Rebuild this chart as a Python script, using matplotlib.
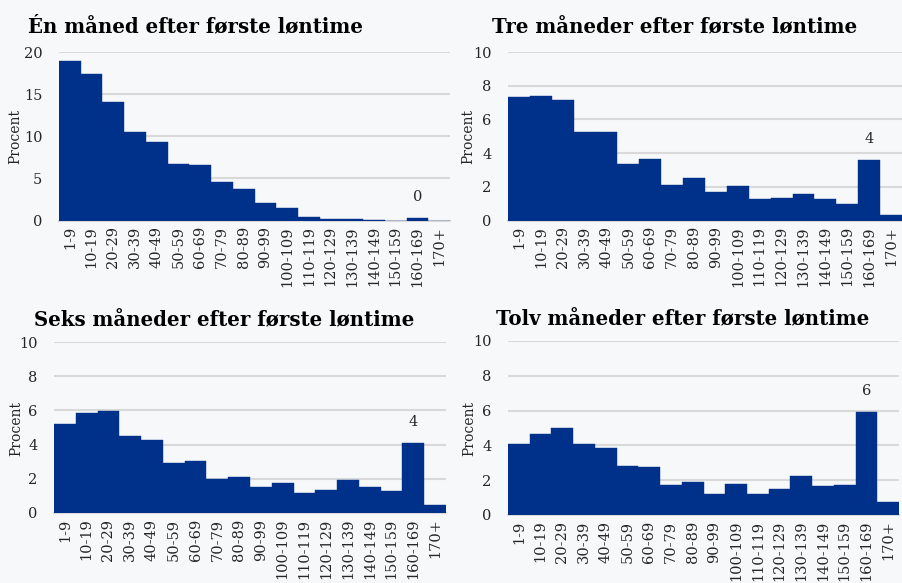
import numpy as np
import matplotlib
matplotlib.use('Agg')
from matplotlib import pyplot as plt

# Fordeling af ugentlige løntimer, procent
categories = ['1-9', '10-19', '20-29', '30-39', '40-49', '50-59', '60-69', '70-79', '80-89',
              '90-99', '100-109', '110-119', '120-129', '130-139', '140-149', '150-159',
              '160-169', '170+']

en_maaned = [18.9, 17.4, 14.1, 10.45, 9.27, 6.67, 6.55, 4.54, 3.75, 2.05, 1.54, 0.4,
             0.16, 0.16, 0.05, 0.0, 0.28, 0.0]
tre_maaneder = [7.33, 7.41, 7.17, 5.25, 5.27, 3.33, 3.66, 2.1, 2.53, 1.68, 2.06, 1.25,
                1.33, 1.6, 1.27, 0.97, 3.58, 0.32]
seks_maaneder = [5.22, 5.87, 5.95, 4.52, 4.27, 2.92, 3.02, 1.97, 2.1, 1.5, 1.77, 1.19,
                 1.36, 1.95, 1.52, 1.27, 4.11, 0.47]
tolv_maaneder = [4.06, 4.66, 5.0, 4.06, 3.85, 2.84, 2.74, 1.74, 1.88, 1.23, 1.8, 1.23,
                 1.49, 2.24, 1.67, 1.7, 5.92, 0.73]

titles = ['Én måned efter første løntime', 'Tre måneder efter første løntime',
          'Seks måneder efter første løntime', 'Tolv måneder efter første løntime']
series = [en_maaned, tre_maaneder, seks_maaneder, tolv_maaneder]
ymax = [20, 10, 10, 10]
yticks = [[0, 5, 10, 15, 20], [0, 2, 4, 6, 8, 10], [0, 2, 4, 6, 8, 10], [0, 2, 4, 6, 8, 10]]

W, H = 902, 583
bg = '#f7f8f9'
bar_color = '#00318a'
grid_color = '#d9d9d9'
txt = '#262626'

plt.rcParams['font.family'] = ['DejaVu Serif']

fig = plt.figure(figsize=(W / 100, H / 100), dpi=100, facecolor=bg)

# pixel boxes: left, right, y of zero, y of top
boxes = [(59, 450, 220.5, 52), (508, 902, 220.5, 52), (54, 446, 513, 342), (508, 899, 515, 341)]
title_pos = [(196, 26), (675, 27), (224, 320), (683, 319)]
ylabel_pos = [(15, 137), (468, 137), (16, 428), (469, 428)]

for i in range(4):
    l, r, y0, y1 = boxes[i]
    ax = fig.add_axes([l / W, (H - y0) / H, (r - l) / W, (y0 - y1) / H])
    ax.set_facecolor(bg)
    x = np.arange(len(categories))
    vals = series[i]
    ax.bar(x, vals, width=1.0, color=bar_color, edgecolor=bar_color, linewidth=0.3, zorder=3)
    ax.set_xlim(-0.5, len(categories) - 0.5)
    ax.set_ylim(0, ymax[i])
    ax.set_yticks(yticks[i])
    ax.yaxis.grid(True, color=grid_color, linewidth=1.5, zorder=0)
    ax.set_axisbelow(True)
    for s in ['top', 'right', 'left']:
        ax.spines[s].set_visible(False)
    ax.spines['bottom'].set_color(grid_color)
    ax.spines['bottom'].set_linewidth(1.5)
    ax.set_xticks(x)
    ax.set_xticklabels(categories, rotation=90, fontsize=10.5, color=txt)
    ax.tick_params(axis='both', length=0, labelsize=10.5, labelcolor=txt)
    ax.tick_params(axis='y', pad=12)
    ax.tick_params(axis='x', pad=4)
    # værdi over 160-169
    idx = 16
    ax.annotate(f'{vals[idx]:.0f}', (x[idx], vals[idx]), xytext=(0, 15), textcoords='offset points',
                ha='center', va='center', fontsize=10.5, color=txt)
    lx, ly = ylabel_pos[i]
    fig.text(lx / W, 1 - ly / H, 'Procent', rotation=90, ha='center', va='center',
             fontsize=10, color=txt)
    tx, ty = title_pos[i]
    fig.text(tx / W, 1 - ty / H, titles[i], ha='center', va='center', fontsize=14.2,
             fontweight='bold', color='black')

fig.savefig('out.png', dpi=100, facecolor=bg)
